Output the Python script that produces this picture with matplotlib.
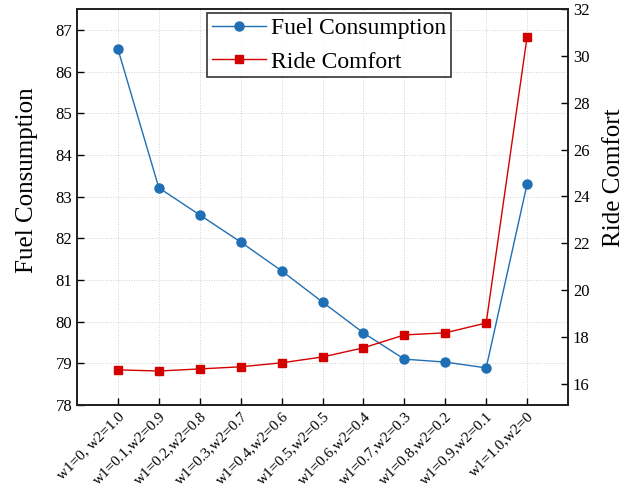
import matplotlib.pyplot as plt

plt.rcParams['font.family'] = ['Liberation Serif', 'DejaVu Serif']

labels = ["w1=0, w2=1.0", "w1=0.1,w2=0.9", "w1=0.2,w2=0.8", "w1=0.3,w2=0.7",
          "w1=0.4,w2=0.6", "w1=0.5,w2=0.5", "w1=0.6,w2=0.4", "w1=0.7,w2=0.3",
          "w1=0.8,w2=0.2", "w1=0.9,w2=0.1", "w1=1.0,w2=0"]
fuel = [86.54, 83.21, 82.56, 81.91, 81.22, 80.47, 79.73, 79.10, 79.03, 78.89, 83.30]
comfort = [16.60, 16.55, 16.64, 16.73, 16.90, 17.15, 17.54, 18.09, 18.18, 18.60, 30.81]

blue = "#1f6fb4"
red = "#d40000"

fig = plt.figure(figsize=(6.43, 4.99), dpi=100)
ax = fig.add_axes([77/643, 1 - 405/499, (568-77)/643, (405-9)/499])
ax2 = ax.twinx()

x = list(range(len(labels)))
l1, = ax.plot(x, fuel, color=blue, marker="o", markersize=6.5, linewidth=1, label="Fuel Consumption")
l2, = ax2.plot(x, comfort, color=red, marker="s", markersize=5.5, linewidth=1, label="Ride Comfort")

ax.set_xlim(-1, 11)
ax.set_ylim(78, 87.5)
ax.set_yticks(range(78, 88))
ax2.set_ylim(15.1, 32)
ax2.set_yticks(range(16, 33, 2))

ax.set_xticks(x)
ax.set_xticklabels(labels, rotation=45, ha="right", rotation_mode="anchor")
ax.tick_params(axis="both", direction="in", length=5, labelsize=12, width=1)
ax2.tick_params(axis="y", direction="in", length=5, labelsize=12, width=1)
ax.tick_params(axis="x", labelsize=11)

ax.grid(True, linestyle=":", color="#d0d0d0", linewidth=0.7)
ax.set_axisbelow(True)

for a in (ax, ax2):
    for s in a.spines.values():
        s.set_linewidth(1.3)
        s.set_color("#222222")

ax.set_ylabel("Fuel Consumption", fontsize=18)
ax.yaxis.set_label_coords(-0.08, 0.568)
ax2.set_ylabel("Ride Comfort", fontsize=18)
ax2.yaxis.set_label_coords(1.071, 0.573)

leg = ax2.legend(handles=[l1, l2], loc="upper left", bbox_to_anchor=((207-77)/491, 1 - 4/396),
                 fontsize=17, frameon=True, fancybox=False, edgecolor="black",
                 borderpad=0.2, handlelength=2.3, handletextpad=0.2, labelspacing=0.5,
                 borderaxespad=0)
leg.get_frame().set_linewidth(1.2)

fig.savefig("out.png", dpi=100)
